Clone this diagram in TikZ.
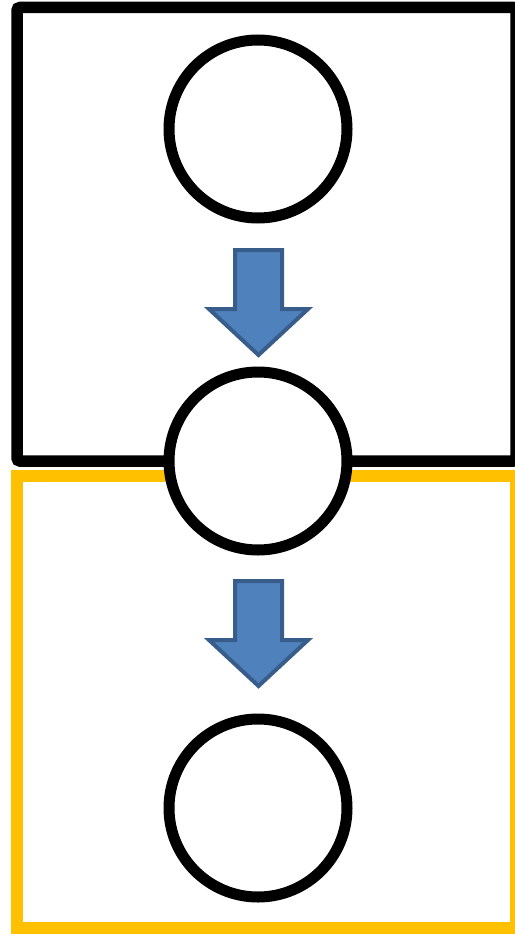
\documentclass[tikz,border=0pt]{standalone}
\definecolor{arrowfill}{HTML}{4F81BD}
\definecolor{arrowline}{HTML}{385D8A}
\definecolor{amber}{HTML}{FFC000}
\tikzset{
  stage/.style={circle, draw=black, fill=white, line width=11pt, minimum size=178pt, inner sep=0pt},
  blockarrow/.style={fill=arrowfill, draw=arrowline, line width=4pt, line join=miter},
}
\begin{document}
\begin{tikzpicture}[x=1pt, y=-1pt]
  \useasboundingbox (0,0) rectangle (514,934);
  % frames
  \draw[amber, line width=11.5pt] (17,476) rectangle (516,928);
  \draw[black, line width=11.5pt, rounded corners=3pt] (17,7.5) rectangle (516,461);
  % stages
  \node[stage] (s1) at (258,129) {};
  \node[stage] (s2) at (258,461) {};
  \node[stage] (s3) at (258,808) {};
  % block arrows between stages
  \foreach \dy/\nm in {0/a1, 331/a2} {
    \begin{scope}[yshift=-\dy pt]
      \draw[blockarrow] (235,250) -- (282,250) -- (282,309) -- (308,309)
        -- (258.5,355) -- (209,309) -- (235,309) -- cycle;
    \end{scope}
  }
\end{tikzpicture}
\end{document}
